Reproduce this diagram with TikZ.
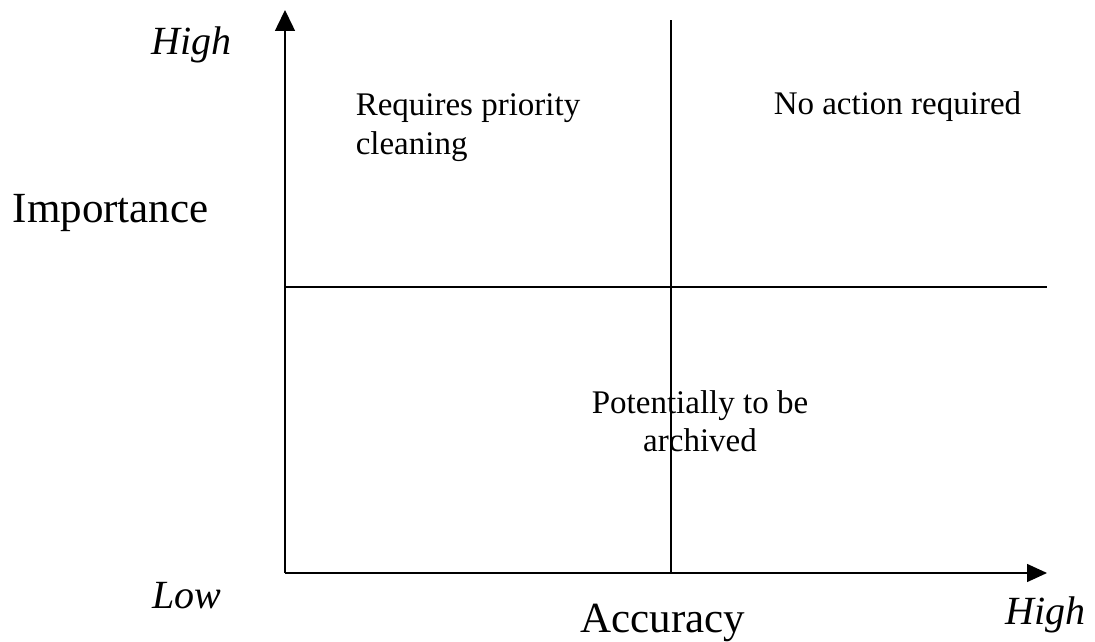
\documentclass[tikz,border=0pt]{standalone}
\usepackage{fontspec}
\setmainfont{Liberation Serif}
\usetikzlibrary{arrows.meta}

\begin{document}
\begin{tikzpicture}[x=1pt,y=1pt,line width=1.5pt,
  quad/.style={inner sep=0pt,font=\fontsize{33}{38.5}\selectfont},
  axname/.style={inner sep=0pt,font=\fontsize{43}{50}\selectfont},
  endname/.style={inner sep=0pt,font=\fontsize{40}{46}\selectfont\itshape}]
  \useasboundingbox (0,0) rectangle (1095,641);
  \coordinate (O) at (285,68); % 原点
  \coordinate (ytip) at (285,631);
  \coordinate (xtip) at (1047,68);
  \coordinate (vtop) at (671,621);
  \coordinate (vbot) at (671,68);
  \coordinate (hleft) at (285,354);
  \coordinate (hright) at (1047,354);
  \draw[-{Triangle[length=21pt,width=20pt]}] (O) -- (ytip); % 縦軸：重要度
  \draw[-{Triangle[length=20pt,width=18pt]}] (O) -- (xtip); % 横軸：正確さ
  \draw (vbot) -- (vtop); % 区切り線
  \draw (hleft) -- (hright);
  \node[endname,anchor=base west] (yhigh) at (151,586) {High};
  \node[endname,anchor=base west] (low) at (152,33) {Low};
  \node[endname,anchor=base west] (xhigh) at (1005,17) {High};
  \node[axname,anchor=base west] (imp) at (12,418) {Importance};
  \node[axname,anchor=base west] (acc) at (580,9) {Accuracy};
  \node[quad,anchor=base west] (noact) at (773,526) {No action required};
  \node[quad,anchor=north west,align=left] (prio) at (355,548) {Requires priority\\cleaning};
  \node[quad,anchor=north,align=center] (arch) at (700,251.5) {Potentially to be\\archived};
\end{tikzpicture}
\end{document}
